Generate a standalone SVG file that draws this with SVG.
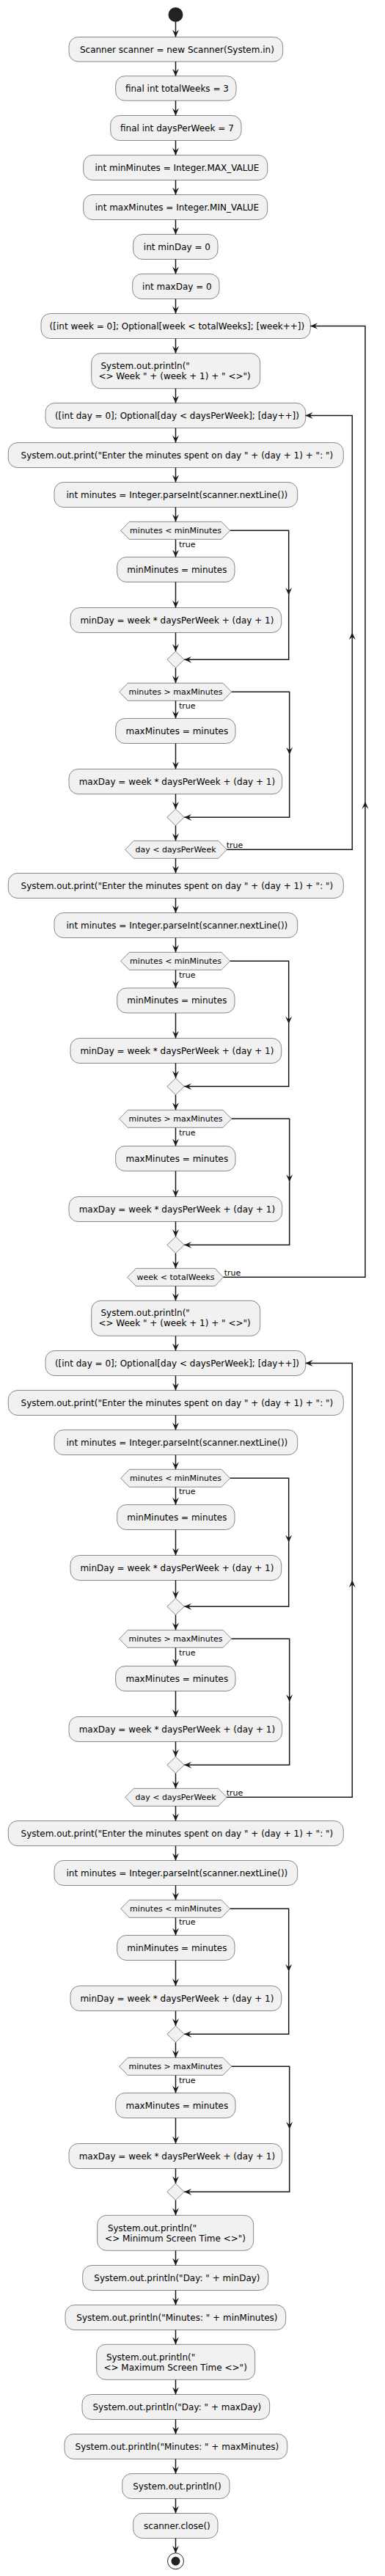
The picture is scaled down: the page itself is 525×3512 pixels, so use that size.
<svg xmlns="http://www.w3.org/2000/svg" width="525" height="3512" viewBox="0 0 525 3512">
<style>
.b{fill:#F1F1F1;stroke:#181818;stroke-width:0.5}
.t{font-family:"DejaVu Sans",Verdana,sans-serif;font-size:12px;fill:#000}
.m{text-anchor:middle}
.ht{font-family:"DejaVu Sans",Verdana,sans-serif;font-size:11px;fill:#000;text-anchor:middle}
.l{font-family:"DejaVu Sans",Verdana,sans-serif;font-size:11px;fill:#000}
.e{fill:none;stroke:#181818;stroke-width:1.5;marker-end:url(#ah)}
.k{fill:#222222}
</style>
<defs>
<marker id="ah" viewBox="0 0 10 10" markerWidth="10" markerHeight="10" refX="10" refY="5" orient="auto" markerUnits="userSpaceOnUse">
<path d="M0,0.5 L10,5 L0,9.5 L4,5 Z" fill="#181818"/>
</marker>
</defs>
<g id="start"><circle class="k" cx="239.5" cy="20" r="10"/></g>
<g id="n1"><rect class="b" x="94" y="50.5" width="291.7" height="33.5" rx="12.5"/><text class="t m" x="241.4" y="71.5">Scanner scanner = new Scanner(System.in)</text></g>
<g id="n2"><rect class="b" x="157.7" y="103.7" width="164.3" height="33.5" rx="12.5"/><text class="t m" x="241.4" y="124.7">final int totalWeeks = 3</text></g>
<g id="n3"><rect class="b" x="150.7" y="157.5" width="178.3" height="34" rx="12.5"/><text class="t m" x="241.4" y="178.5">final int daysPerWeek = 7</text></g>
<g id="n4"><rect class="b" x="113.7" y="211.5" width="251" height="34" rx="12.5"/><text class="t m" x="241.4" y="232.5">int minMinutes = Integer.MAX_VALUE</text></g>
<g id="n5"><rect class="b" x="113.7" y="265.5" width="251" height="34" rx="12.5"/><text class="t m" x="241.4" y="286.5">int maxMinutes = Integer.MIN_VALUE</text></g>
<g id="n6"><rect class="b" x="181.7" y="319.5" width="115.3" height="34" rx="12.5"/><text class="t m" x="241.4" y="340.5">int minDay = 0</text></g>
<g id="n7"><rect class="b" x="180.7" y="373.5" width="118.3" height="34" rx="12.5"/><text class="t m" x="241.4" y="394.5">int maxDay = 0</text></g>
<g id="n8"><rect class="b" x="56" y="427.5" width="367.3" height="34" rx="12.5"/><text class="t m" x="241.4" y="448.5">([int week = 0]; Optional[week &lt; totalWeeks]; [week++])</text></g>
<g id="n9"><rect class="b" x="124.7" y="481.7" width="230" height="48" rx="12.5"/><text class="t" x="137.5" y="502.8">System.out.println("</text><text class="t" x="134.4" y="516.8">&lt;&gt; Week " + (week + 1) + " &lt;&gt;")</text></g>
<g id="n10"><rect class="b" x="62" y="549.5" width="354.7" height="34" rx="12.5"/><text class="t m" x="241.4" y="570.5">([int day = 0]; Optional[day &lt; daysPerWeek]; [day++])</text></g>
<g id="n11"><rect class="b" x="11.3" y="603.5" width="457" height="34" rx="12.5"/><text class="t m" x="241.4" y="624.5">System.out.print("Enter the minutes spent on day " + (day + 1) + ": ")</text></g>
<g id="n12"><rect class="b" x="74" y="657.5" width="331.7" height="34" rx="12.5"/><text class="t m" x="241.4" y="678.5">int minutes = Integer.parseInt(scanner.nextLine())</text></g>
<g id="n13"><polygon class="b" points="164.7,723.3 176.3,711.3 302,711.3 313.7,723.3 302,735.3 176.3,735.3"/><text class="ht" x="239.5" y="727.3">minutes &lt; minMinutes</text></g>
<g id="n14"><rect class="b" x="159.7" y="759.5" width="160.3" height="34" rx="12.5"/><text class="t m" x="241.4" y="780.5">minMinutes = minutes</text></g>
<g id="n15"><rect class="b" x="96" y="828.5" width="287.7" height="34" rx="12.5"/><text class="t m" x="241.4" y="849.5">minDay = week * daysPerWeek + (day + 1)</text></g>
<g id="n16"><polygon class="b" points="239.5,888 251.2,899.3 239.5,910.6 227.8,899.3"/></g>
<g id="n17"><polygon class="b" points="162.7,943.3 174.3,931.3 304,931.3 315.7,943.3 304,955.3 174.3,955.3"/><text class="ht" x="239.5" y="947.3">minutes &gt; maxMinutes</text></g>
<g id="n18"><rect class="b" x="157.7" y="979.5" width="163.3" height="34" rx="12.5"/><text class="t m" x="241.4" y="1000.5">maxMinutes = minutes</text></g>
<g id="n19"><rect class="b" x="94" y="1048.5" width="290.7" height="34" rx="12.5"/><text class="t m" x="241.4" y="1069.5">maxDay = week * daysPerWeek + (day + 1)</text></g>
<g id="n20"><polygon class="b" points="239.5,1103 251.2,1114.3 239.5,1125.6 227.8,1114.3"/></g>
<g id="n21"><polygon class="b" points="170.7,1158.3 182.3,1146.3 297.7,1146.3 309.3,1158.3 297.7,1170.3 182.3,1170.3"/><text class="ht" x="239.5" y="1162.3">day &lt; daysPerWeek</text></g>
<g id="n22"><rect class="b" x="11.3" y="1190.5" width="457" height="34" rx="12.5"/><text class="t m" x="241.4" y="1211.5">System.out.print("Enter the minutes spent on day " + (day + 1) + ": ")</text></g>
<g id="n23"><rect class="b" x="74" y="1244.5" width="331.7" height="34" rx="12.5"/><text class="t m" x="241.4" y="1265.5">int minutes = Integer.parseInt(scanner.nextLine())</text></g>
<g id="n24"><polygon class="b" points="164.7,1310.3 176.3,1298.3 302,1298.3 313.7,1310.3 302,1322.3 176.3,1322.3"/><text class="ht" x="239.5" y="1314.3">minutes &lt; minMinutes</text></g>
<g id="n25"><rect class="b" x="159.7" y="1347" width="160.3" height="34" rx="12.5"/><text class="t m" x="241.4" y="1368">minMinutes = minutes</text></g>
<g id="n26"><rect class="b" x="96" y="1415.5" width="287.7" height="34" rx="12.5"/><text class="t m" x="241.4" y="1436.5">minDay = week * daysPerWeek + (day + 1)</text></g>
<g id="n27"><polygon class="b" points="239.5,1470 251.2,1481.3 239.5,1492.6 227.8,1481.3"/></g>
<g id="n28"><polygon class="b" points="162.7,1525.3 174.3,1513.3 304,1513.3 315.7,1525.3 304,1537.3 174.3,1537.3"/><text class="ht" x="239.5" y="1529.3">minutes &gt; maxMinutes</text></g>
<g id="n29"><rect class="b" x="157.7" y="1562.5" width="163.3" height="34" rx="12.5"/><text class="t m" x="241.4" y="1583.5">maxMinutes = minutes</text></g>
<g id="n30"><rect class="b" x="94" y="1631.5" width="290.7" height="34" rx="12.5"/><text class="t m" x="241.4" y="1652.5">maxDay = week * daysPerWeek + (day + 1)</text></g>
<g id="n31"><polygon class="b" points="239.5,1686 251.2,1697.3 239.5,1708.6 227.8,1697.3"/></g>
<g id="n32"><polygon class="b" points="173.7,1741.3 185.3,1729.3 293.3,1729.3 304.3,1741.3 293.3,1753.3 185.3,1753.3"/><text class="ht" x="239.5" y="1745.3">week &lt; totalWeeks</text></g>
<g id="n33"><rect class="b" x="124.7" y="1773.3" width="230" height="48" rx="12.5"/><text class="t" x="137.5" y="1794.2">System.out.println("</text><text class="t" x="134.4" y="1808.2">&lt;&gt; Week " + (week + 1) + " &lt;&gt;")</text></g>
<g id="n34"><rect class="b" x="62" y="1841.5" width="354.7" height="34" rx="12.5"/><text class="t m" x="241.4" y="1862.5">([int day = 0]; Optional[day &lt; daysPerWeek]; [day++])</text></g>
<g id="n35"><rect class="b" x="11.3" y="1895.5" width="457" height="34" rx="12.5"/><text class="t m" x="241.4" y="1916.5">System.out.print("Enter the minutes spent on day " + (day + 1) + ": ")</text></g>
<g id="n36"><rect class="b" x="74" y="1949.5" width="331.7" height="34" rx="12.5"/><text class="t m" x="241.4" y="1970.5">int minutes = Integer.parseInt(scanner.nextLine())</text></g>
<g id="n37"><polygon class="b" points="164.7,2015.3 176.3,2003.3 302,2003.3 313.7,2015.3 302,2027.3 176.3,2027.3"/><text class="ht" x="239.5" y="2019.3">minutes &lt; minMinutes</text></g>
<g id="n38"><rect class="b" x="159.7" y="2051.5" width="160.3" height="34" rx="12.5"/><text class="t m" x="241.4" y="2072.5">minMinutes = minutes</text></g>
<g id="n39"><rect class="b" x="96" y="2120.5" width="287.7" height="34" rx="12.5"/><text class="t m" x="241.4" y="2141.5">minDay = week * daysPerWeek + (day + 1)</text></g>
<g id="n40"><polygon class="b" points="239.5,2179 251.2,2190.3 239.5,2201.6 227.8,2190.3"/></g>
<g id="n41"><polygon class="b" points="162.7,2234.3 174.3,2222.3 304,2222.3 315.7,2234.3 304,2246.3 174.3,2246.3"/><text class="ht" x="239.5" y="2238.3">minutes &gt; maxMinutes</text></g>
<g id="n42"><rect class="b" x="157.7" y="2271.5" width="163.3" height="34" rx="12.5"/><text class="t m" x="241.4" y="2292.5">maxMinutes = minutes</text></g>
<g id="n43"><rect class="b" x="94" y="2340.5" width="290.7" height="34" rx="12.5"/><text class="t m" x="241.4" y="2361.5">maxDay = week * daysPerWeek + (day + 1)</text></g>
<g id="n44"><polygon class="b" points="239.5,2395 251.2,2406.3 239.5,2417.6 227.8,2406.3"/></g>
<g id="n45"><polygon class="b" points="170.7,2450.3 182.3,2438.3 297.7,2438.3 309.3,2450.3 297.7,2462.3 182.3,2462.3"/><text class="ht" x="239.5" y="2454.3">day &lt; daysPerWeek</text></g>
<g id="n46"><rect class="b" x="11.3" y="2482.5" width="457" height="34" rx="12.5"/><text class="t m" x="241.4" y="2503.5">System.out.print("Enter the minutes spent on day " + (day + 1) + ": ")</text></g>
<g id="n47"><rect class="b" x="74" y="2536.5" width="331.7" height="34" rx="12.5"/><text class="t m" x="241.4" y="2557.5">int minutes = Integer.parseInt(scanner.nextLine())</text></g>
<g id="n48"><polygon class="b" points="164.7,2602.3 176.3,2590.3 302,2590.3 313.7,2602.3 302,2614.3 176.3,2614.3"/><text class="ht" x="239.5" y="2606.3">minutes &lt; minMinutes</text></g>
<g id="n49"><rect class="b" x="159.7" y="2638.5" width="160.3" height="34" rx="12.5"/><text class="t m" x="241.4" y="2659.5">minMinutes = minutes</text></g>
<g id="n50"><rect class="b" x="96" y="2707.5" width="287.7" height="34" rx="12.5"/><text class="t m" x="241.4" y="2728.5">minDay = week * daysPerWeek + (day + 1)</text></g>
<g id="n51"><polygon class="b" points="239.5,2762 251.2,2773.3 239.5,2784.6 227.8,2773.3"/></g>
<g id="n52"><polygon class="b" points="162.7,2817.3 174.3,2805.3 304,2805.3 315.7,2817.3 304,2829.3 174.3,2829.3"/><text class="ht" x="239.5" y="2821.3">minutes &gt; maxMinutes</text></g>
<g id="n53"><rect class="b" x="157.7" y="2853.5" width="163.3" height="34" rx="12.5"/><text class="t m" x="241.4" y="2874.5">maxMinutes = minutes</text></g>
<g id="n54"><rect class="b" x="94" y="2922.5" width="290.7" height="34" rx="12.5"/><text class="t m" x="241.4" y="2943.5">maxDay = week * daysPerWeek + (day + 1)</text></g>
<g id="n55"><polygon class="b" points="239.5,2977 251.2,2988.3 239.5,2999.6 227.8,2988.3"/></g>
<g id="n56"><rect class="b" x="132.7" y="3020.3" width="213" height="48" rx="12.5"/><text class="t" x="146.9" y="3041.8">System.out.println("</text><text class="t" x="143.1" y="3056.2">&lt;&gt; Minimum Screen Time &lt;&gt;")</text></g>
<g id="n57"><rect class="b" x="112.7" y="3088.5" width="253" height="34" rx="12.5"/><text class="t m" x="241.4" y="3109.5">System.out.println("Day: " + minDay)</text></g>
<g id="n58"><rect class="b" x="89" y="3142.5" width="300.7" height="34" rx="12.5"/><text class="t m" x="241.4" y="3163.5">System.out.println("Minutes: " + minMinutes)</text></g>
<g id="n59"><rect class="b" x="131.7" y="3196.3" width="216" height="48" rx="12.5"/><text class="t" x="144.9" y="3217.8">System.out.println("</text><text class="t" x="141.4" y="3231.8">&lt;&gt; Maximum Screen Time &lt;&gt;")</text></g>
<g id="n60"><rect class="b" x="112" y="3264.5" width="255.7" height="34" rx="12.5"/><text class="t m" x="241.4" y="3285.5">System.out.println("Day: " + maxDay)</text></g>
<g id="n61"><rect class="b" x="88" y="3318.5" width="303.7" height="34" rx="12.5"/><text class="t m" x="241.4" y="3339.5">System.out.println("Minutes: " + maxMinutes)</text></g>
<g id="n62"><rect class="b" x="166.7" y="3372.5" width="146.3" height="34" rx="12.5"/><text class="t m" x="241.4" y="3393.5">System.out.println()</text></g>
<g id="n63"><rect class="b" x="181.7" y="3426.5" width="115.3" height="34" rx="12.5"/><text class="t m" x="241.4" y="3447.5">scanner.close()</text></g>
<g id="end"><circle cx="239.5" cy="3491.7" r="11" fill="none" stroke="#222222" stroke-width="1"/><circle class="k" cx="239.5" cy="3491.7" r="6"/></g>
<g id="connectors">
<path class="e" d="M239.5,30 V50.5"/>
<path class="e" d="M239.5,84 V103.7"/>
<path class="e" d="M239.5,137.2 V157.5"/>
<path class="e" d="M239.5,191.5 V211.5"/>
<path class="e" d="M239.5,245.5 V265.5"/>
<path class="e" d="M239.5,299.5 V319.5"/>
<path class="e" d="M239.5,353.5 V373.5"/>
<path class="e" d="M239.5,407.5 V427.5"/>
<path class="e" d="M239.5,461.5 V481.7"/>
<path class="e" d="M239.5,529.7 V549.5"/>
<path class="e" d="M239.5,583.5 V603.5"/>
<path class="e" d="M239.5,637.5 V657.5"/>
<path class="e" d="M239.5,691.5 V711.3"/>
<path class="e" d="M239.5,735.3 V759.5"/>
<path class="e" d="M239.5,793.5 V828.5"/>
<path class="e" d="M239.5,862.5 V888"/>
<path class="e" d="M239.5,910.6 V931.3"/>
<path class="e" d="M239.5,955.3 V979.5"/>
<path class="e" d="M239.5,1013.5 V1048.5"/>
<path class="e" d="M239.5,1082.5 V1103"/>
<path class="e" d="M239.5,1125.6 V1146.3"/>
<path class="e" d="M239.5,1170.3 V1190.5"/>
<path class="e" d="M239.5,1224.5 V1244.5"/>
<path class="e" d="M239.5,1278.5 V1298.3"/>
<path class="e" d="M239.5,1322.3 V1347"/>
<path class="e" d="M239.5,1381 V1415.5"/>
<path class="e" d="M239.5,1449.5 V1470"/>
<path class="e" d="M239.5,1492.6 V1513.3"/>
<path class="e" d="M239.5,1537.3 V1562.5"/>
<path class="e" d="M239.5,1596.5 V1631.5"/>
<path class="e" d="M239.5,1665.5 V1686"/>
<path class="e" d="M239.5,1708.6 V1729.3"/>
<path class="e" d="M239.5,1753.3 V1773.3"/>
<path class="e" d="M239.5,1821.3 V1841.5"/>
<path class="e" d="M239.5,1875.5 V1895.5"/>
<path class="e" d="M239.5,1929.5 V1949.5"/>
<path class="e" d="M239.5,1983.5 V2003.3"/>
<path class="e" d="M239.5,2027.3 V2051.5"/>
<path class="e" d="M239.5,2085.5 V2120.5"/>
<path class="e" d="M239.5,2154.5 V2179"/>
<path class="e" d="M239.5,2201.6 V2222.3"/>
<path class="e" d="M239.5,2246.3 V2271.5"/>
<path class="e" d="M239.5,2305.5 V2340.5"/>
<path class="e" d="M239.5,2374.5 V2395"/>
<path class="e" d="M239.5,2417.6 V2438.3"/>
<path class="e" d="M239.5,2462.3 V2482.5"/>
<path class="e" d="M239.5,2516.5 V2536.5"/>
<path class="e" d="M239.5,2570.5 V2590.3"/>
<path class="e" d="M239.5,2614.3 V2638.5"/>
<path class="e" d="M239.5,2672.5 V2707.5"/>
<path class="e" d="M239.5,2741.5 V2762"/>
<path class="e" d="M239.5,2784.6 V2805.3"/>
<path class="e" d="M239.5,2829.3 V2853.5"/>
<path class="e" d="M239.5,2887.5 V2922.5"/>
<path class="e" d="M239.5,2956.5 V2977"/>
<path class="e" d="M239.5,2999.6 V3020.3"/>
<path class="e" d="M239.5,3068.3 V3088.5"/>
<path class="e" d="M239.5,3122.5 V3142.5"/>
<path class="e" d="M239.5,3176.5 V3196.3"/>
<path class="e" d="M239.5,3244.3 V3264.5"/>
<path class="e" d="M239.5,3298.5 V3318.5"/>
<path class="e" d="M239.5,3352.5 V3372.5"/>
<path class="e" d="M239.5,3406.5 V3426.5"/>
<path class="e" d="M239.5,3460.5 V3480.7"/>
<path class="e" d="M313.7,723.3 H393.7 V811.3"/><path class="e" d="M393.7,811.3 V899.3 H251.2"/>
<path class="e" d="M315.7,943.3 H394.7 V1028.8"/><path class="e" d="M394.7,1028.8 V1114.3 H251.2"/>
<path class="e" d="M313.7,1310.3 H393.7 V1395.8"/><path class="e" d="M393.7,1395.8 V1481.3 H251.2"/>
<path class="e" d="M315.7,1525.3 H394.7 V1611.3"/><path class="e" d="M394.7,1611.3 V1697.3 H251.2"/>
<path class="e" d="M313.7,2015.3 H393.7 V2102.8"/><path class="e" d="M393.7,2102.8 V2190.3 H251.2"/>
<path class="e" d="M315.7,2234.3 H394.7 V2320.3"/><path class="e" d="M394.7,2320.3 V2406.3 H251.2"/>
<path class="e" d="M313.7,2602.3 H393.7 V2687.8"/><path class="e" d="M393.7,2687.8 V2773.3 H251.2"/>
<path class="e" d="M315.7,2817.3 H394.7 V2902.8"/><path class="e" d="M394.7,2902.8 V2988.3 H251.2"/>
<path class="e" d="M309.3,1158.3 H480.3 V862.3"/><path class="e" d="M480.3,862.3 V566.5 H416.7"/>
<path class="e" d="M304.3,1741.3 H498 V1092.8"/><path class="e" d="M498,1092.8 V444.5 H423.3"/>
<path class="e" d="M309.3,2450.3 H480.3 V2154.3"/><path class="e" d="M480.3,2154.3 V1858.5 H416.7"/>
<text class="l" x="244" y="746">true</text>
<text class="l" x="244" y="966">true</text>
<text class="l" x="308.7" y="1155.5">true</text>
<text class="l" x="244" y="1333">true</text>
<text class="l" x="244" y="1548">true</text>
<text class="l" x="305.7" y="1738.5">true</text>
<text class="l" x="244" y="2037">true</text>
<text class="l" x="244" y="2257">true</text>
<text class="l" x="308.7" y="2447.5">true</text>
<text class="l" x="244" y="2624">true</text>
<text class="l" x="244" y="2840">true</text>
</g>
</svg>
